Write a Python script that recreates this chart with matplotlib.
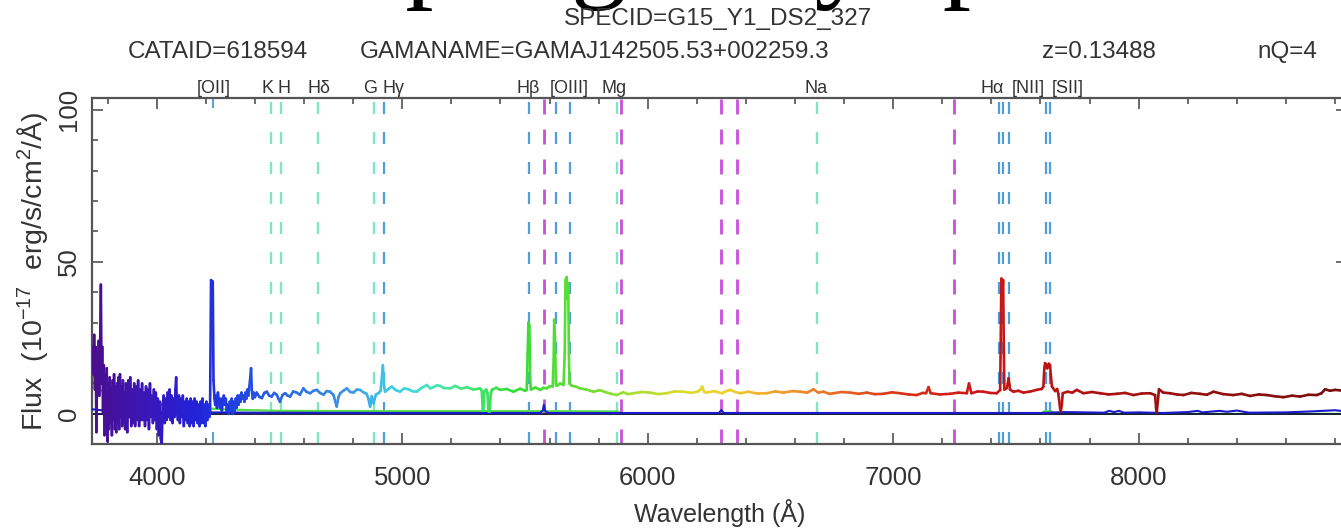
import matplotlib

matplotlib.use("Agg")
import matplotlib.pyplot as plt
import numpy as np
from matplotlib.collections import LineCollection
from matplotlib.colors import LinearSegmentedColormap
from matplotlib.ticker import MultipleLocator

plt.rcParams["font.family"] = ["Liberation Sans", "DejaVu Sans"]
plt.rcParams["mathtext.fontset"] = "custom"
plt.rcParams["mathtext.rm"] = "Liberation Sans"
plt.rcParams["mathtext.it"] = "Liberation Sans:italic"
plt.rcParams["lines.scale_dashes"] = False

W, H, DPI = 1341, 529, 100

# slide title (only its lower edge shows at the top of the picture)
slide_title = "Example galaxy spectrum"

# header info
specid = "SPECID=G15_Y1_DS2_327"
cataid = "CATAID=618594"
gamaname = "GAMANAME=GAMAJ142505.53+002259.3"
redshift = 0.13488
nq = 4

# spectrum (Angstrom, 1e-17 erg/s/cm2/A)
wave_blue = [3739, 3742, 3745, 3748, 3751, 3754, 3757, 3760, 3763, 3766,
             3769, 3772, 3775, 3778, 3781, 3784, 3787, 3790, 3793, 3796,
             3799, 3802, 3805, 3808, 3811, 3814, 3817, 3820, 3823, 3826,
             3829, 3832, 3835, 3838, 3841, 3844, 3847, 3850, 3853, 3856,
             3859, 3862, 3865, 3868, 3871, 3874, 3877, 3880, 3884, 3888,
             3892, 3896, 3900, 3904, 3908, 3912, 3916, 3920, 3924, 3928,
             3932, 3936, 3940, 3944, 3948, 3952, 3956, 3960, 3964, 3968,
             3972, 3976, 3980, 3984, 3988, 3992, 3996, 4000, 4004, 4008,
             4012, 4016, 4020, 4024, 4028, 4032, 4036, 4040, 4044, 4048,
             4052, 4056, 4060, 4064, 4068, 4072, 4076, 4079, 4082, 4086,
             4090, 4094, 4098, 4102, 4106, 4110, 4114, 4118, 4122, 4126,
             4130, 4134, 4138, 4142, 4146, 4150, 4154, 4158, 4162, 4166,
             4170, 4174, 4178, 4182, 4186, 4190, 4194, 4198, 4202, 4206,
             4210, 4214, 4217, 4221, 4228, 4231, 4235, 4238, 4241, 4245,
             4249, 4253, 4257, 4261, 4265, 4269, 4273, 4277, 4281, 4285,
             4289, 4293, 4297, 4301, 4305, 4309, 4313, 4317, 4321, 4325,
             4329, 4333, 4337, 4341, 4345, 4349, 4353, 4357, 4361, 4365,
             4369, 4373, 4377, 4381, 4384, 4387, 4391, 4395, 4400]
flux_blue = [22, 13, 26, 8, 22, -6, 19, 10, 24, 6,
             20, 42.5, 10, 22, 0, 16, -7, 13, -2, 15,
             -9, 10, -5, 12, -3, 9, -7, 11, -2, 13,
             -5, 9, -6, 10, -3, 12, -5, 13, -1, 9,
             -4, 11, -3, 7, -5, 10, -2, -6, 11, -1,
             12, -4, 8, -3, 10, -4, 9, -2, 11, -4,
             8, -2, 10, -2, 7, -4, 9, -2, 8, -5,
             10, -1, 6, -3, 8, -2, 7, -5, 5, -7,
             4, -8, -10, 3, 6, -3, 5, -2, 7, -1,
             8, -2, 6, -3, 5, -1, 8, 12, 1, -2,
             6, -3, 5, -1, 6, -4, 4, -2, 5, -3,
             4, -4, 5, -3, 4, -4, 5, -2, 4, -3,
             3, -4, 4, -3, 5, -3, 3, -4, 4, -2,
             3, -1, 1, 44, 43.5, 11, 5, 3, 6, 2,
             7, 4, 2, 5, 1, 4, 6, 3, 5, 1,
             3, 0, 4, 1, 5, 0, 4, 1, 5, 2,
             6, 3, 6, 4, 7, 5, 6, 4, 7, 5,
             8, 6, 9, 12, 15, 8, 5, 7, 5.5]

wave_cont = [4407, 4418, 4428, 4438, 4448, 4458, 4468, 4478, 4489, 4495,
             4502, 4512, 4523, 4533, 4543, 4556, 4570, 4583, 4597, 4611,
             4625, 4638, 4652, 4665, 4679, 4692, 4706, 4720, 4733, 4740,
             4747, 4760, 4774, 4788, 4801, 4815, 4828, 4842, 4855, 4862,
             4869, 4876, 4883, 4893, 4903, 4912, 4921, 4926, 4930, 4944,
             4957, 4974, 4991, 5008, 5025, 5042, 5059, 5080, 5100, 5114,
             5127, 5141, 5154]
flux_cont = [7.0, 5.6, 5.2, 6.9, 7.3, 6.0, 5.7, 6.9, 6.3, 5.1,
             4.0, 6.2, 6.8, 6.0, 5.7, 7.4, 7.0, 6.3, 8.4, 7.2,
             6.8, 7.6, 7.9, 6.9, 6.3, 7.5, 7.3, 6.2, 2.4, 5.5,
             6.8, 7.6, 8.4, 7.2, 7.0, 8.0, 7.9, 7.1, 6.6, 5.0,
             2.4, 5.8, 3.5, 6.4, 6.8, 7.6, 16.0, 9.0, 7.3, 8.2,
             9.0, 7.8, 7.3, 8.4, 8.1, 7.4, 7.4, 8.6, 9.5, 8.4,
             8.8, 9.4, 9.2]

wave_mid = [5170, 5195, 5215, 5240, 5263, 5290, 5317, 5324, 5328, 5331,
            5334, 5342, 5347, 5351, 5356, 5360, 5365, 5382, 5399, 5426,
            5453, 5480, 5500, 5507, 5511, 5514, 5518, 5521, 5524, 5543,
            5562, 5575, 5589, 5600, 5613, 5617, 5619, 5622, 5626, 5629,
            5643, 5657, 5662, 5665, 5670, 5673, 5676, 5679, 5681, 5691,
            5707, 5724, 5750, 5779, 5805, 5833, 5852, 5874, 5900, 5920,
            5942, 5975, 6010, 6043, 6077, 6110, 6145, 6180, 6205, 6215,
            6222, 6230, 6241, 6270, 6302, 6320, 6336, 6357, 6377, 6410,
            6445, 6485, 6520, 6553, 6590, 6621, 6650, 6675, 6695, 6716,
            6740, 6757, 6790, 6825]
flux_mid = [8.5, 8.4, 9.2, 8.3, 8.8, 8.0, 8.4, 7.6, 1.0, 1.2,
            7.5, 8.0, 7.0, 1.0, 1.0, 6.0, 7.9, 8.6, 7.9, 8.2,
            7.3, 8.3, 7.6, 7.9, 20, 30, 29, 12, 8.0, 8.7,
            7.9, 8.6, 8.4, 9.1, 9.0, 18, 31, 25, 10, 9.2,
            10.0, 9.5, 20, 44, 45, 38, 43, 20, 10, 9.2,
            9.0, 8.4, 8.0, 7.3, 7.8, 7.0, 6.6, 6.2, 7.1, 6.5,
            6.8, 7.2, 7.0, 6.5, 6.8, 7.4, 7.3, 6.9, 7.4, 8.0,
            9.0, 7.2, 7.0, 7.5, 6.8, 7.5, 7.9, 7.2, 6.8, 7.3,
            6.7, 6.8, 7.4, 7.0, 7.5, 7.3, 7.0, 8.1, 7.0, 7.3,
            6.6, 6.8, 7.2, 7.0]

wave_red = [6860, 6892, 6925, 6960, 6995, 7028, 7062, 7096, 7120, 7134,
            7144, 7153, 7190, 7232, 7266, 7300, 7309, 7319, 7345, 7368,
            7395, 7422, 7436, 7439, 7441, 7445, 7448, 7451, 7453, 7463,
            7467, 7470, 7474, 7476, 7490, 7510, 7531, 7560, 7585, 7605,
            7612, 7616, 7619, 7624, 7628, 7634, 7639, 7643, 7647, 7660,
            7668, 7673, 7680, 7683, 7687, 7691, 7710, 7730, 7748, 7775,
            7810, 7843, 7878, 7911, 7945, 7979, 8012, 8047, 8067, 8071,
            8074, 8078, 8083, 8100, 8128, 8155, 8183, 8215, 8250, 8278,
            8305, 8345, 8386, 8420, 8454, 8490, 8522, 8555, 8590, 8625,
            8658, 8692, 8726, 8745, 8760, 8780, 8800, 8825, 8845]
flux_red = [6.6, 7.0, 6.5, 6.6, 7.1, 6.8, 6.4, 6.2, 6.9, 6.8,
            8.8, 6.8, 6.4, 6.6, 7.0, 6.8, 10.0, 6.8, 7.4, 7.3,
            6.9, 6.8, 7.9, 30, 44.5, 40, 44, 20, 8.0, 8.5,
            10, 11.7, 9.5, 8.0, 7.3, 7.6, 7.0, 7.4, 7.9, 8.2,
            9.0, 15, 16.7, 16.0, 15.0, 16.5, 16.1, 12, 9.0, 7.5,
            8.2, 6.6, 2.0, 0.8, 3, 6.8, 7.3, 7.0, 7.9, 6.8,
            7.2, 6.8, 6.4, 6.6, 6.9, 6.2, 6.7, 6.8, 6.2, 2.0,
            0.4, 4, 8.1, 7.0, 6.8, 6.4, 6.2, 6.9, 6.6, 6.3,
            7.3, 6.5, 6.2, 6.6, 5.9, 6.4, 6.2, 5.8, 5.5, 6.0,
            5.7, 6.3, 6.2, 6.8, 8.1, 7.6, 7.9, 7.7, 8.0]

# error spectrum (blue) and the green trace
wave_err = [3739, 3800, 3900, 4000, 4200, 4400, 5000, 5560, 5572, 5577,
            5582, 5595, 6290, 6300, 6310, 7600, 7700, 7860, 7880, 7900,
            7920, 7940, 8000, 8100, 8200, 8240, 8260, 8330, 8360, 8400,
            8450, 8600, 8700, 8800, 8845]
flux_err = [1.5, 1.0, 0.7, 0.6, 0.5, 0.4, 0.3, 0.3, 1.0, 3.0,
            1.0, 0.3, 0.3, 1.3, 0.3, 0.3, 0.6, 0.4, 1.0, 0.6,
            1.0, 0.4, 0.5, 0.3, 0.6, 1.0, 0.5, 1.0, 0.7, 1.1,
            0.4, 0.5, 0.8, 1.2, 0.8]

wave_green = [3739, 3750, 3770, 3800, 3850, 3900, 3950, 4000, 4100, 4200,
              4300, 4500, 5000, 5500, 5880, 5890, 7600, 7615, 7645, 7660, 8845]
flux_green = [14, 11, 8, 6, 5, 4.5, 4, 3.5, 2.6, 1.8,
              1.4, 1.0, 0.9, 0.9, 0.8, 0.0, 0.0, 0.8, 0.8, 0.0, 0.0]

# spectral line markers (rest wavelength, shifted by z)
emis_rest = [3727, 4341, 4861, 4959, 5007, 6548, 6563, 6583, 6716, 6731]
absn_rest = [3934, 3969, 4102, 4304, 5175, 5894]
sky_obs = [5577, 5893, 6300, 6364, 7246]

label_text = ["[OII]", "K", "H", "Hδ", "G", "Hγ", "Hβ", "[OIII]", "Mg", "Na",
              "Hα", "[NII]", "[SII]"]
label_wave = [4233, 4453, 4519, 4661, 4869, 4963, 5513, 5680, 5863, 6686,
              7403, 7550, 7713]

xlim = (3736, 8849)
ylim = (-9.9, 103.9)

spec_colors = [(3736, "#4a0e8e"), (3950, "#3a16b8"), (4150, "#2222d8"),
               (4300, "#1f40e0"), (4500, "#2a66e2"), (4750, "#3a90e6"),
               (4950, "#3ccbe6"), (5100, "#40e6c2"), (5250, "#44e67c"),
               (5450, "#33dd33"), (5700, "#5ade33"), (5900, "#9ede30"),
               (6150, "#dcdc2c"), (6350, "#f0cc2c"), (6550, "#f09c2c"),
               (6800, "#e66420"), (7000, "#d93818"), (7300, "#cf1818"),
               (7700, "#b81212"), (8200, "#961010"), (8849, "#780c0c")]

px = 1.0 / DPI * 72  # points per pixel

fig = plt.figure(figsize=(W / DPI, H / DPI), dpi=DPI)
ax = fig.add_axes([92 / W, (H - 444) / H, (1347 - 92) / W, (444 - 98) / H])

# line markers
for w in emis_rest:
    obs = w * (1 + redshift)
    if w == 3727:
        ax.axvline(obs, color="#5aa6dc", lw=1.5, dashes=(12 * px, 324 * px), zorder=1)
    else:
        ax.axvline(obs, color="#4f9ddc", lw=1.6, dashes=(12 * px, 18 * px), zorder=1)
for w in absn_rest:
    ax.axvline(w * (1 + redshift), color="#7ee6c4", lw=1.7,
               dashes=(12 * px, 18 * px), zorder=1)
for w in sky_obs:
    ax.axvline(w, color="#c850d8", lw=2.0, dashes=(15 * px, 15 * px), zorder=1)

# traces
ax.plot(wave_green, flux_green, color="#55dd44", lw=1.6, zorder=2)
ax.axhline(0, color="#111133", lw=1.3, zorder=2)
ax.plot(wave_err, flux_err, color="#1a1acc", lw=1.5, zorder=3)

wave = np.array(wave_blue + wave_cont + wave_mid + wave_red, dtype=float)
flux = np.array(flux_blue + flux_cont + flux_mid + flux_red, dtype=float)
pts = np.column_stack([wave, flux]).reshape(-1, 1, 2)
segs = np.concatenate([pts[:-1], pts[1:]], axis=1)
cmap = LinearSegmentedColormap.from_list(
    "spec", [((w - xlim[0]) / (xlim[1] - xlim[0]), c) for w, c in spec_colors])
mid = 0.5 * (wave[:-1] + wave[1:])
lc = LineCollection(segs, colors=cmap((mid - xlim[0]) / (xlim[1] - xlim[0])),
                    linewidths=1.9, zorder=4, capstyle="round", joinstyle="round")
ax.add_collection(lc)

ax.set_xlim(*xlim)
ax.set_ylim(*ylim)
ax.xaxis.set_major_locator(MultipleLocator(1000))
ax.xaxis.set_minor_locator(MultipleLocator(200))
ax.yaxis.set_major_locator(MultipleLocator(50))
ax.yaxis.set_minor_locator(MultipleLocator(10))
ax.tick_params(which="both", direction="in", top=True, right=True,
               color="#444444", width=1.1, labelcolor="#333333", labelsize=18.5)
ax.tick_params(which="major", length=8)
ax.tick_params(which="minor", length=4.5)
ax.tick_params(axis="x", pad=15.5)
ax.tick_params(axis="y", pad=8)
for lab in ax.get_yticklabels():
    lab.set_rotation(90)
    lab.set_va("center")
for sp in ax.spines.values():
    sp.set_color("#555555")
    sp.set_linewidth(1.6)

ax.set_xlabel("Wavelength (Å)", fontsize=18, color="#333333", labelpad=7)
ax.set_ylabel("Flux  (10$^{-17}$  erg/s/cm$^{2}$/Å)", fontsize=20.5, color="#333333")
ax.yaxis.set_label_coords((50 - 92) / (1347 - 92), 0.5)

trans = ax.get_xaxis_transform()
for t, w in zip(label_text, label_wave):
    ax.text(w, 1.014, t, transform=trans, ha="center", va="baseline",
            fontsize=13, color="#333333", clip_on=False)

# header rows
fig.text(727 / W, 1 + 13 / H, slide_title, ha="center", va="baseline",
         fontsize=81, family="Liberation Serif", color="black")
fig.text(718 / W, 1 - 19 / H, specid, ha="center", va="center",
         fontsize=17.5, color="#333333")
row_y = 1 - 52 / H
fig.text(218 / W, row_y, cataid, ha="center", va="center", fontsize=17.5, color="#333333")
fig.text(595 / W, row_y, gamaname, ha="center", va="center", fontsize=17.5, color="#333333")
fig.text(1099 / W, row_y, "z=%.5f" % redshift, ha="center", va="center",
         fontsize=17.5, color="#333333")
fig.text(1287 / W, row_y, "nQ=%d" % nq, ha="center", va="center", fontsize=17.5, color="#333333")

fig.savefig("out.png", dpi=DPI)
plt.close(fig)
